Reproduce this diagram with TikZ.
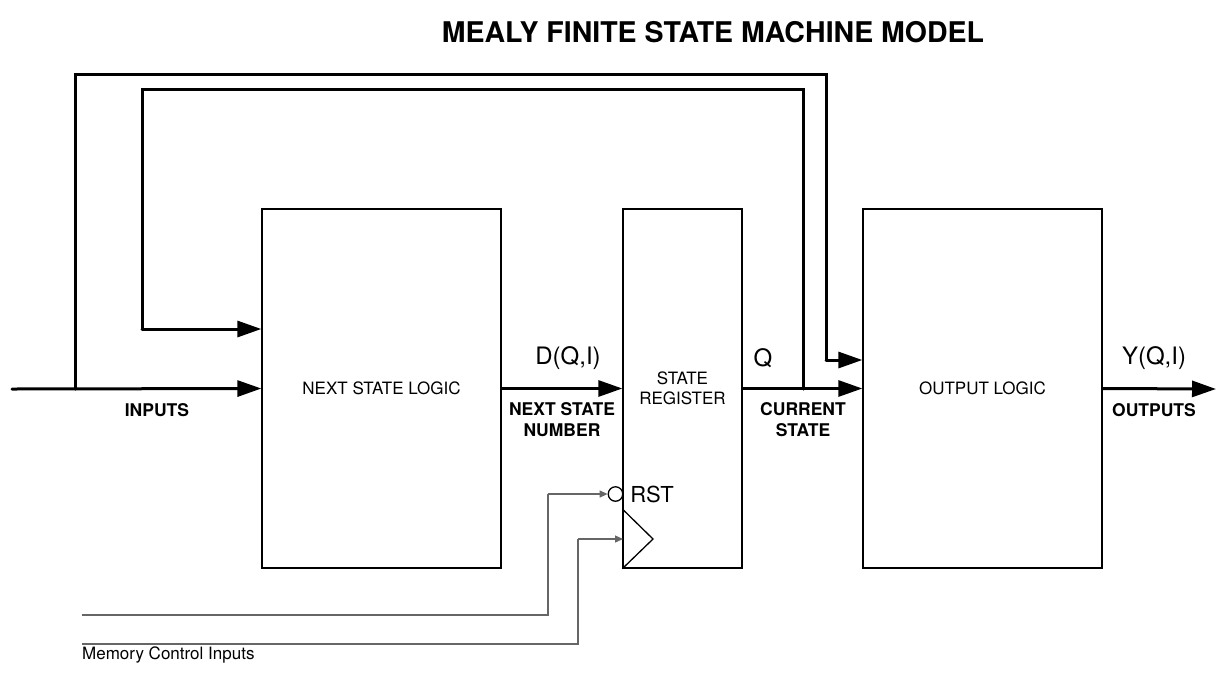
\documentclass[tikz,border=0pt]{standalone}
\usepackage{fontspec}
\setmainfont{TeX Gyre Heros}
\usetikzlibrary{arrows.meta}

\begin{document}
\begin{tikzpicture}[x=1pt, y=-1pt,
  block/.style={draw, line width=1.3pt, minimum width=239pt, minimum height=359pt, inner sep=0pt, font=\fontsize{17}{20}\selectfont, align=center},
  bus/.style={line width=3pt, line cap=round},
  busarrow/.style={bus, -{Triangle[length=24pt, width=16pt]}},
  ctrl/.style={draw=black!60, line width=1.3pt},
  ctrlarrow/.style={ctrl, -{Triangle[length=8pt, width=7pt]}},
  big/.style={font=\fontsize{24}{28}\selectfont},
  tag/.style={font=\fontsize{17.5}{21}\selectfont\bfseries, align=center}]
  \useasboundingbox (0,0) rectangle (1217,673);

  \node[font=\fontsize{28.5}{32}\selectfont\bfseries] (title) at (713, 32) {MEALY FINITE STATE MACHINE MODEL};

  % blocks
  \node[block] (NSL) at (381.5, 388.5) {NEXT STATE LOGIC};
  \node[block, minimum width=119pt, text width=115pt] (REG) at (682.5, 388.5) {STATE\\REGISTER};
  \node[block] (OUT) at (982.5, 388.5) {OUTPUT LOGIC};

  % clock pin and reset bubble
  \draw[line width=1.3pt] (REG.south west |- 0, 509) -- (653, 539) -- (REG.south west);
  \coordinate (CLK) at (623, 539);
  \node[draw, circle, line width=1.3pt, minimum size=14.5pt, inner sep=0pt] (BUB) at (615.5, 494) {};
  \node[font=\fontsize{22}{26}\selectfont] (RST) at (652, 494) {RST};

      \coordinate (IN) at (12, 389);
  \coordinate (J1) at (75, 389);
  \coordinate (T1) at (826, 74);
  \coordinate (T1E) at (826, 360);
  \coordinate (J2) at (803, 389);
  \coordinate (T2) at (142, 89);
  \coordinate (T2E) at (142, 329);
  \coordinate (YE) at (1216, 389);

  \draw[busarrow] (IN) -- (NSL.west);
  \draw[bus] (J1) |- (T1) -- (T1E);
  \draw[busarrow] (T1E) -- (OUT.west |- T1E);
  \draw[bus] (J2) |- (T2) -- (T2E);
  \draw[busarrow] (T2E) -- (NSL.west |- T2E);
  \draw[busarrow] (NSL.east) -- (REG.west);
  \draw[busarrow] (REG.east) -- (OUT.west);
  \draw[busarrow] (OUT.east) -- (YE);

  \node[big] (D) at (568, 358) {D(Q,I)};
  \node[big] (Q) at (763, 358) {Q};
  \node[big] (Y) at (1154, 358) {Y(Q,I)};
  \node[tag] (INL) at (157, 410) {INPUTS};
  \node[tag] (NSN) at (562, 420) {NEXT STATE\\NUMBER};
  \node[tag] (CS) at (803, 420) {CURRENT\\STATE};
  \node[tag] (OUTL) at (1154, 410) {OUTPUTS};

      \coordinate (RIN) at (82, 615);
  \coordinate (RK) at (548, 494);
  \coordinate (CIN) at (82, 644);
  \coordinate (CK) at (578, 539);

  \draw[ctrl] (RIN) -| (RK);
  \draw[ctrlarrow] (RK) -- (BUB.west);
  \draw[ctrl] (CIN) -| (CK);
  \draw[ctrlarrow] (CK) -- (CLK);
  \node[font=\fontsize{17}{20}\selectfont, anchor=west, inner sep=0pt] (MCI) at (82, 655) {Memory Control Inputs};
\end{tikzpicture}
\end{document}
